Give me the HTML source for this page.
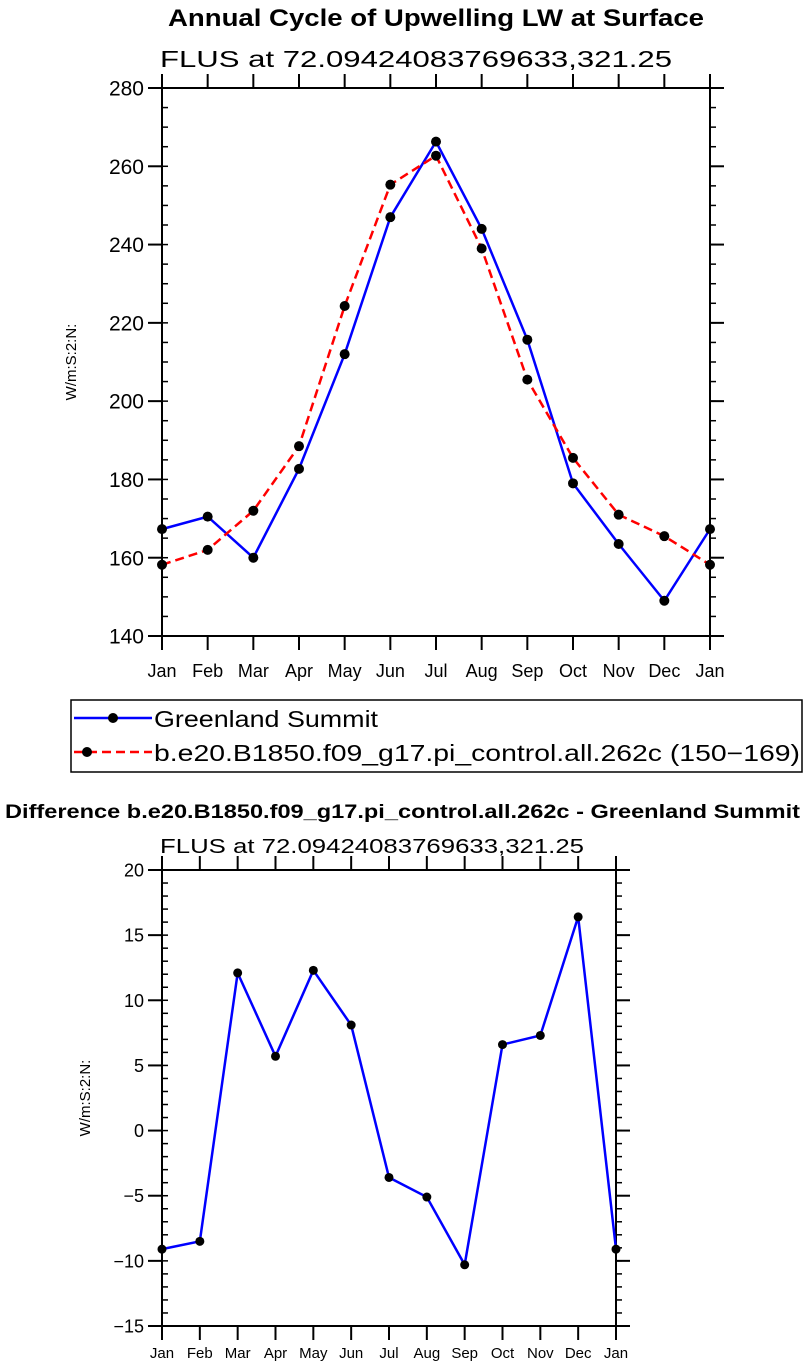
<!DOCTYPE html>
<html><head><meta charset="utf-8"><style>
body{margin:0;background:#fff;width:808px;height:1368px;overflow:hidden}
svg{display:block;font-family:"Liberation Sans","DejaVu Sans",sans-serif}
</style></head><body>
<svg id="s" width="808" height="1368" viewBox="0 0 808 1368"></svg>
<script>
const months = ["Jan","Feb","Mar","Apr","May","Jun","Jul","Aug","Sep","Oct","Nov","Dec","Jan"];
const obsValues = [167.3,170.5,160,182.7,212,247,266.3,244,215.7,179,163.5,149,167.3];
const modelValues = [158.2,162,172,188.5,224.3,255.3,262.7,239,205.5,185.5,171,165.5,158.2];
const diffValues = [-9.1,-8.5,12.1,5.7,12.3,8.1,-3.6,-5.1,-10.3,6.6,7.3,16.4,-9.1];
const topTicks = [140,160,180,200,220,240,260,280];
const botTicks = [-15,-10,-5,0,5,10,15,20];

const S=document.getElementById('s'),NS='http://www.w3.org/2000/svg';
function el(t,a,p){const e=document.createElementNS(NS,t);for(const k in a)e.setAttribute(k,a[k]);(p||S).appendChild(e);return e;}
function txt(x,y,s,a,name){const e=el('text',Object.assign({x:x,y:y},a));e.textContent=s;


return e;}

function panel(o){
  const g=el('g',{});
  
  
  const X=i=>o.x0+(o.x1-o.x0)*i/(months.length-1);
  const Y=v=>o.y1-(v-o.min)/(o.max-o.min)*(o.y1-o.y0);
  const ax=el('rect',{x:o.x0,y:o.y0,width:o.x1-o.x0,height:o.y1-o.y0,fill:'none',stroke:'#000','stroke-width':2},g);
  
  
  for(let v=o.min;v<=o.max+1e-9;v+=o.minor){
    const y=Y(v);
    el('line',{x1:o.x0,x2:o.x0+6,y1:y,y2:y,stroke:'#000','stroke-width':1.5},g);
    el('line',{x1:o.x1,x2:o.x1+6,y1:y,y2:y,stroke:'#000','stroke-width':1.5},g);
  }
  o.ticks.forEach(v=>{
    const y=Y(v);
    el('line',{x1:o.x0-14,x2:o.x0,y1:y,y2:y,stroke:'#000','stroke-width':2},g);
    el('line',{x1:o.x1,x2:o.x1+14,y1:y,y2:y,stroke:'#000','stroke-width':2},g);
    txt(o.x0-18,y+o.fs*0.36,String(v).replace('-','\u2212'),{'text-anchor':'end','font-size':o.fs},'y-tick-label');
  });
  months.forEach((m,i)=>{
    const x=X(i);
    el('line',{x1:x,x2:x,y1:o.y1,y2:o.y1+14,stroke:'#000','stroke-width':2},g);
    el('line',{x1:x,x2:x,y1:o.y0-14,y2:o.y0,stroke:'#000','stroke-width':2},g);
    txt(x,o.y1+o.xdy,m,{'text-anchor':'middle','font-size':o.xfs},'x-tick-label');
  });
  const tx=o.tx,ty=(o.y0+o.y1)/2;
  txt(tx,ty,'W/m:S:2:N:',{'text-anchor':'middle','font-size':15,transform:`rotate(-90 ${tx} ${ty})`},'y-axis-title');
  o.series.forEach(s=>{
    const pts=s.v.map((v,i)=>X(i)+','+Y(v)).join(' ');
    const l=el('polyline',{points:pts,fill:'none',stroke:s.c,'stroke-width':2.5,'stroke-dasharray':s.d||'none'},g);
    
    
    s.v.forEach((v,i)=>{
      const c=el('circle',{cx:X(i),cy:Y(v),r:o.r,fill:'#000'},g);
      
      
    });
  });
}

txt(168,26,'Annual Cycle of Upwelling LW at Surface',{'font-size':24,'font-weight':'bold',textLength:536,lengthAdjust:'spacingAndGlyphs'},'chart-title');
txt(160,67,'FLUS at 72.09424083769633,321.25',{'font-size':23,textLength:512,lengthAdjust:'spacingAndGlyphs'},'chart-subtitle');
panel({name:'annual-cycle-panel',x0:162,x1:710,y0:88,y1:636,min:140,max:280,minor:5,ticks:topTicks,fs:21,xfs:18,xdy:41,r:5,tx:76,
  series:[{v:obsValues,c:'#0000ff',name:'greenland-summit-line'},{v:modelValues,c:'#ff0000',d:'9,5',name:'model-line'}]});

const lg=el('g',{});


el('rect',{x:71,y:700,width:731,height:72,fill:'none',stroke:'#000','stroke-width':1.5},lg);
el('line',{x1:74,x2:152,y1:718,y2:718,stroke:'#0000ff','stroke-width':2.5},lg);
el('circle',{cx:113,cy:718,r:5,fill:'#000'},lg);
txt(154,727,'Greenland Summit',{'font-size':23,textLength:224,lengthAdjust:'spacingAndGlyphs'},'legend-entry-obs');
el('line',{x1:74,x2:152,y1:752,y2:752,stroke:'#ff0000','stroke-width':2.5,'stroke-dasharray':'9,5'},lg);
el('circle',{cx:87,cy:752,r:5,fill:'#000'},lg);
txt(154,761,'b.e20.B1850.f09_g17.pi_control.all.262c (150\u2212169)',{'font-size':23,textLength:646,lengthAdjust:'spacingAndGlyphs'},'legend-entry-model');

txt(5,818,'Difference b.e20.B1850.f09_g17.pi_control.all.262c - Greenland Summit',{'font-size':19,'font-weight':'bold',textLength:795,lengthAdjust:'spacingAndGlyphs'},'diff-title');
txt(160,853,'FLUS at 72.09424083769633,321.25',{'font-size':20,textLength:424,lengthAdjust:'spacingAndGlyphs'},'diff-subtitle');
panel({name:'difference-panel',x0:162,x1:616,y0:870,y1:1326,min:-15,max:20,minor:1,ticks:botTicks,fs:18,xfs:15,xdy:32,r:4.5,tx:90,
  series:[{v:diffValues,c:'#0000ff',name:'difference-line'}]});
</script>
</body></html>
